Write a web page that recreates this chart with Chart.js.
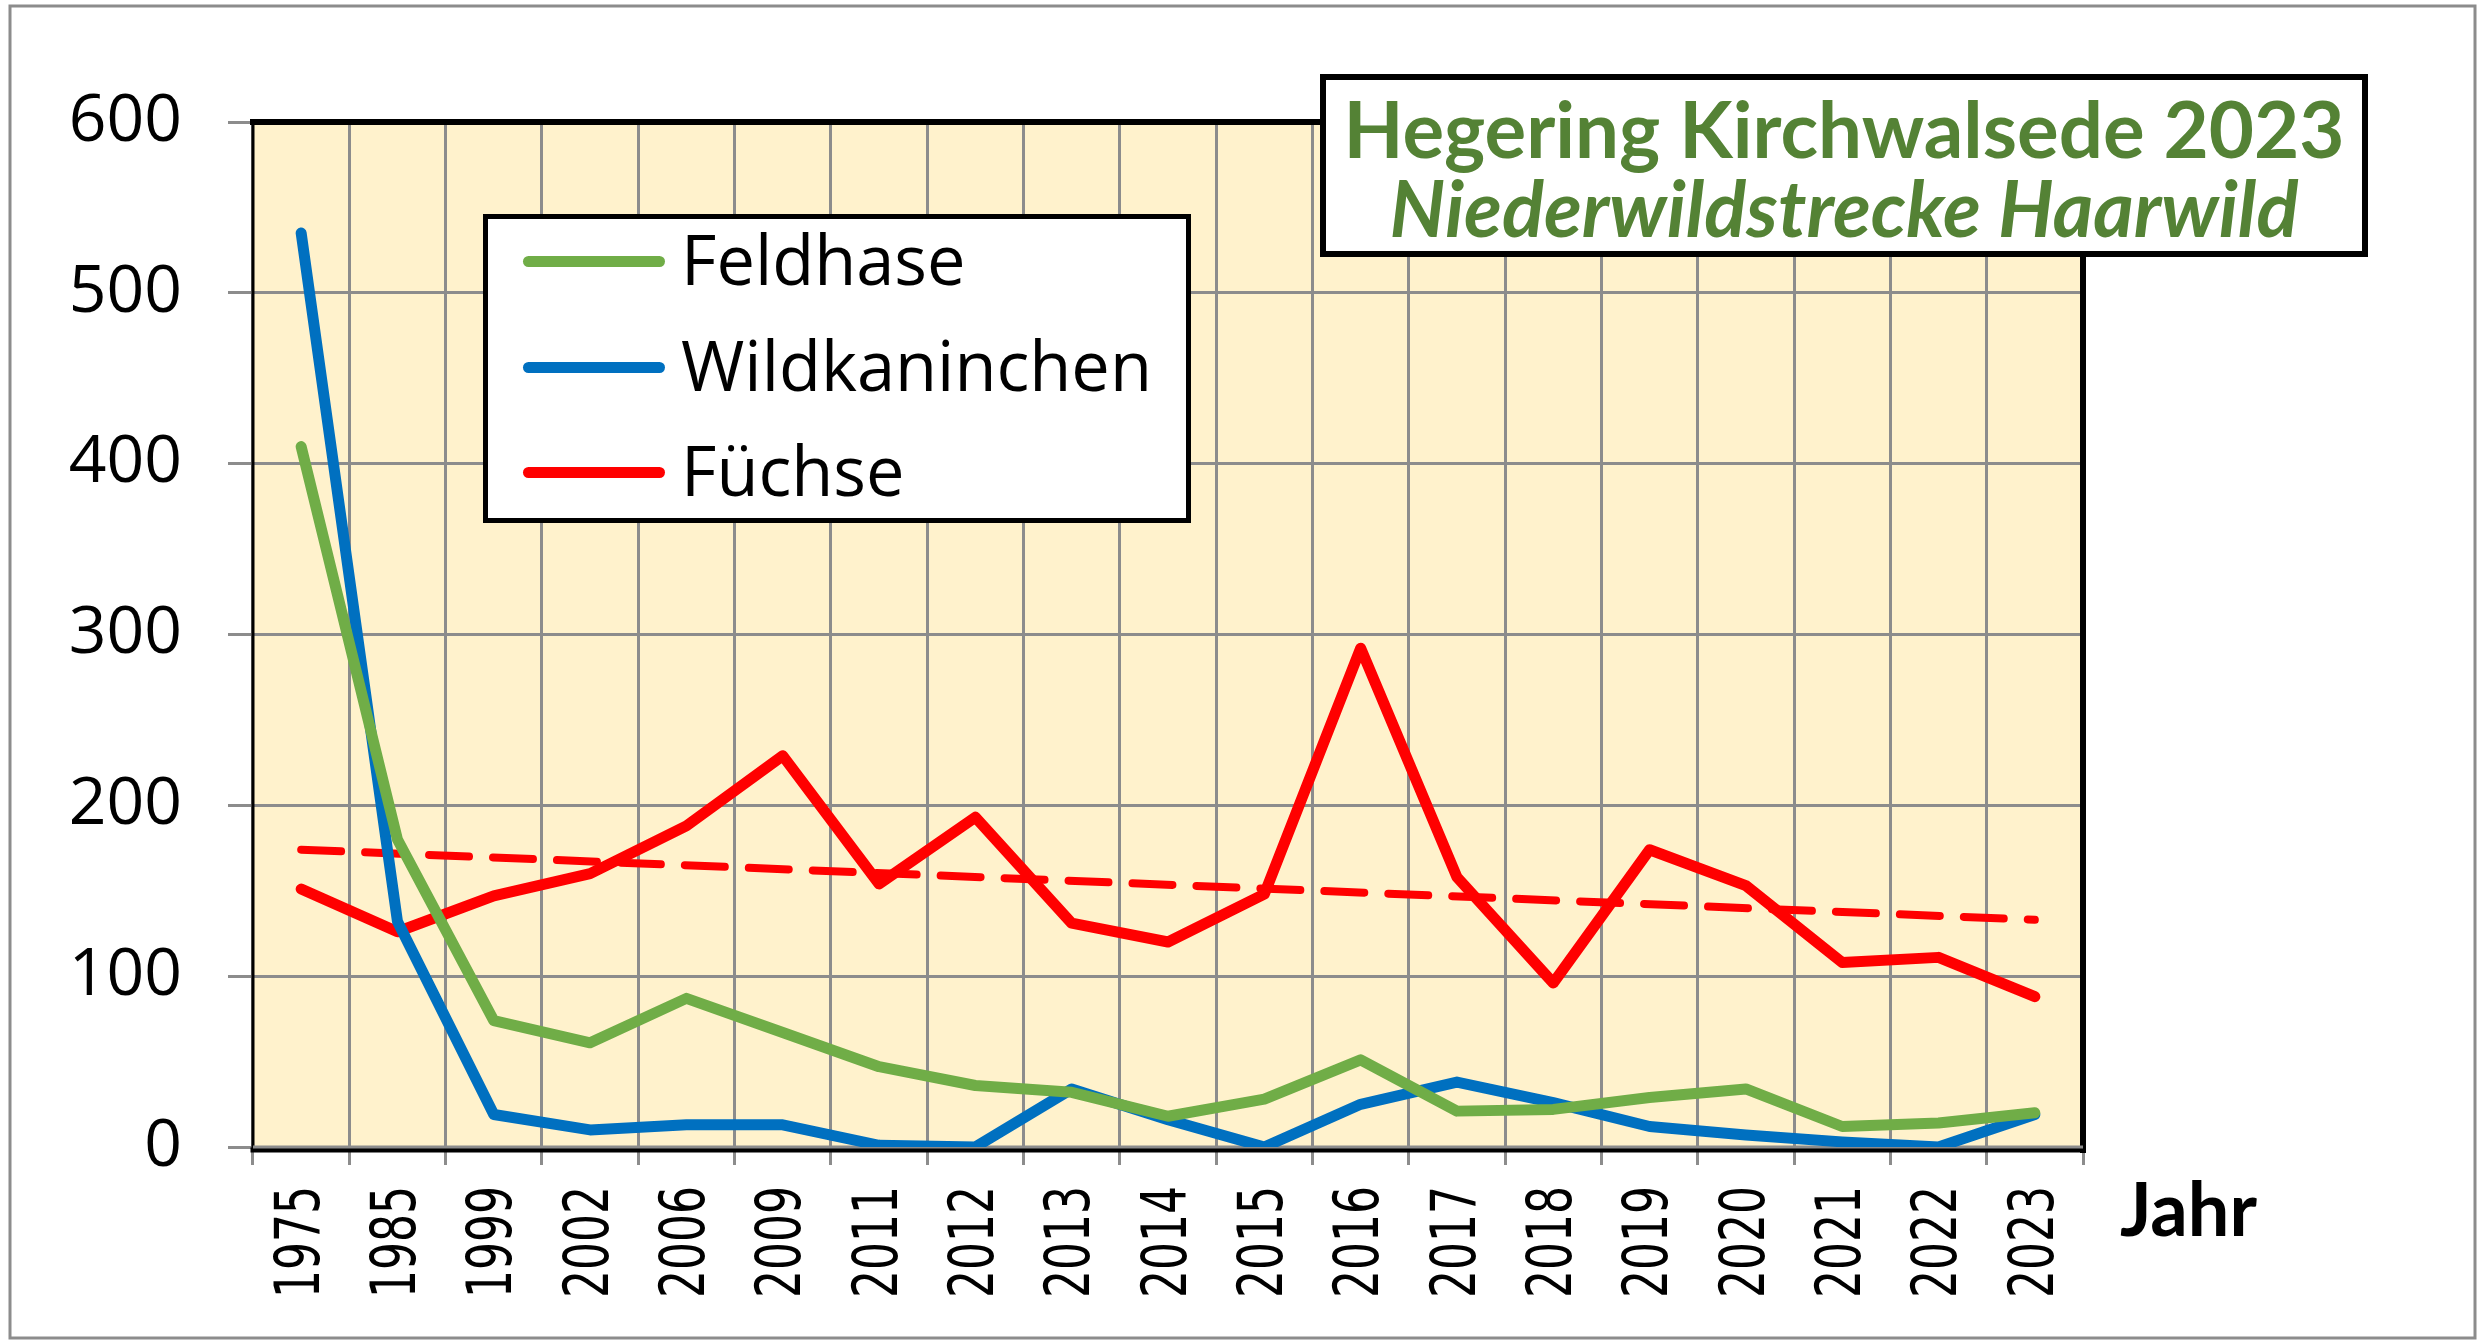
<!DOCTYPE html>
<html>
<head>
<meta charset="utf-8">
<script src="https://cdn.jsdelivr.net/npm/chart.js@4.4.1/dist/chart.umd.min.js"></script>
<style>
  html, body { margin: 0; padding: 0; background: #fff; }
  #wrap { position: relative; width: 2484px; height: 1341px; overflow: hidden; }
  #c { position: absolute; left: 0; top: 0; }
  #titlebox { position: absolute; left: 1320px; top: 74px; width: 1048px; height: 183px;
    box-sizing: border-box; border: 6px solid #000; background: #fff; }
  .tline { position: absolute; left: 0; width: 100%; text-align: center; color: #548235;
    white-space: nowrap; line-height: 1; font-family: Lato, "Open Sans", sans-serif; font-weight: bold; }
  #legendbox { position: absolute; left: 483px; top: 214px; width: 708px; height: 309px;
    box-sizing: border-box; border: 5px solid #000; background: #fff; }
  .lline { position: absolute; height: 11px; border-radius: 6px; }
  .ltext { position: absolute; white-space: nowrap; line-height: 1; color: #000;
    font-family: "Open Sans", sans-serif; }
  #jahr { position: absolute; white-space: nowrap; line-height: 1; color: #000;
    font-family: Lato, "Open Sans", sans-serif; font-weight: bold; }
</style>
</head>
<body>
<div id="wrap">
  <canvas id="c" width="2484" height="1341"></canvas>
  <div id="titlebox"></div>
  <div id="legendbox"></div>
  <div id="jahr"></div>
</div>
<script>
// ---- data ----
const categories = ['1975','1985','1999','2002','2006','2009','2011','2012','2013','2014','2015','2016','2017','2018','2019','2020','2021','2022','2023'];
const feldhase      = [410, 180, 74, 61, 87, 67, 47, 36, 32, 18, 28, 51, 21, 22, 29, 34, 12, 14, 20];
const wildkaninchen = [535, 132, 19, 10, 13, 13, 1, 0, 34, 16, 0, 25, 38, 26, 12, 7, 3, 0, 19];
const fuechse       = [151, 126, 147, 160, 188, 229, 154, 193, 131, 120, 148, 292, 158, 96, 174, 153, 108, 111, 88];
const fuechseTrend  = [174, null, null, null, null, null, null, null, null, null, null, null, null, null, null, null, null, null, 133];
const seriesNames   = ['Feldhase', 'Wildkaninchen', 'Füchse'];
const yMin = 0, yMax = 600, yStep = 100;
const titleLines = ['Hegering Kirchwalsede 2023', 'Niederwildstrecke Haarwild'];
const axisTitleX = 'Jahr';

const colors = ['#70AD47', '#0070C0', '#FF0000'];
const gridColor = '#8C8C8C';

// plot area geometry
const AREA = { left: 253, top: 122, right: 2083, bottom: 1147 };
const W = 2484, H = 1341;

const framePlugin = {
  id: 'frame',
  beforeDraw(chart) {
    const ctx = chart.ctx, a = chart.chartArea;
    ctx.save();
    ctx.fillStyle = '#fff';
    ctx.fillRect(0, 0, W, H);
    ctx.strokeStyle = '#8C8C8C';
    ctx.lineWidth = 3;
    ctx.strokeRect(10, 6, 2465, 1332);
    ctx.fillStyle = '#FFF2CC';
    ctx.fillRect(a.left, a.top, a.right - a.left, a.bottom - a.top);
    ctx.restore();
  },
  beforeDatasetsDraw(chart) {
    const ctx = chart.ctx, a = chart.chartArea;
    ctx.save();
    ctx.strokeStyle = '#000';
    ctx.lineCap = 'square';
    ctx.lineWidth = 5;
    ctx.beginPath(); ctx.moveTo(a.left, a.bottom + 3); ctx.lineTo(a.right, a.bottom + 3); ctx.stroke();
    ctx.lineWidth = 3;
    ctx.beginPath(); ctx.moveTo(a.left, a.top); ctx.lineTo(a.left, a.bottom); ctx.stroke();
    ctx.lineWidth = 6;
    ctx.beginPath(); ctx.moveTo(a.left, a.top); ctx.lineTo(a.right, a.top); ctx.stroke();
    ctx.beginPath(); ctx.moveTo(a.right, a.top); ctx.lineTo(a.right, a.bottom + 3); ctx.stroke();
    ctx.strokeStyle = gridColor;
    ctx.lineWidth = 3;
    ctx.lineCap = 'butt';
    ctx.beginPath(); ctx.moveTo(a.left, a.bottom); ctx.lineTo(a.right, a.bottom); ctx.stroke();
    ctx.restore();
  },
  // category labels of the x scale, drawn at the scale's own tick positions,
  // rotated and widened across the reading direction like the original
  afterDraw(chart) {
    const ctx = chart.ctx, xs = chart.scales.x;
    ctx.save();
    ctx.fillStyle = '#000';
    ctx.font = '44px "DejaVu Sans"';
    ctx.textAlign = 'right';
    ctx.textBaseline = 'middle';
    xs.ticks.forEach((t, i) => {
      const x = xs.getPixelForTick(i);
      ctx.save();
      ctx.translate(x, chart.chartArea.bottom + 39);
      ctx.rotate(-Math.PI / 2);
      ctx.scale(1, 1.42);
      ctx.fillText(xs.getLabelForValue(t.value), 0, 1);
      ctx.restore();
    });
    ctx.restore();
  }
};

const chart = new Chart(document.getElementById('c'), {
  type: 'line',
  data: {
    labels: categories,
    datasets: [
      { label: seriesNames[0], data: feldhase, borderColor: colors[0], backgroundColor: colors[0], borderWidth: 11 },
      { label: seriesNames[1], data: wildkaninchen, borderColor: colors[1], backgroundColor: colors[1], borderWidth: 11 },
      { label: seriesNames[2], data: fuechse, borderColor: colors[2], backgroundColor: colors[2], borderWidth: 11 },
      { label: 'Trend', data: fuechseTrend, borderColor: colors[2], borderWidth: 8, borderDash: [40, 24], spanGaps: true, isTrend: true }
    ]
  },
  options: {
    responsive: false,
    animation: false,
    devicePixelRatio: 1,
    layout: { padding: { left: 0, top: AREA.top, right: W - AREA.right, bottom: 0 } },
    elements: { point: { radius: 0, hoverRadius: 0 }, line: { tension: 0, borderJoinStyle: 'round', borderCapStyle: 'round' } },
    plugins: { legend: { display: false }, tooltip: { enabled: false }, title: { display: false } },
    scales: {
      x: {
        type: 'category',
        offset: true,
        grid: { offset: true, color: gridColor, lineWidth: 3, tickLength: 18, drawOnChartArea: true },
        border: { display: false },
        ticks: { display: false, autoSkip: false },
        afterFit(scale) { scale.height = H - AREA.bottom; }
      },
      y: {
        min: yMin, max: yMax,
        grid: { color: gridColor, lineWidth: 3, tickLength: 25 },
        border: { display: false },
        ticks: { stepSize: yStep, padding: 46, color: '#000',
                 font: { family: 'Open Sans', size: 66 } },
        afterFit(scale) { scale.width = AREA.left; }
      }
    }
  },
  plugins: [framePlugin]
});

// ---- text overlays (real DOM text) ----
const mctx = document.createElement('canvas').getContext('2d');
function fit(text, font, target) {
  mctx.font = font.replace('{s}', '100px');
  return 100 * target / mctx.measureText(text).width;
}

// title box
const tb = document.getElementById('titlebox');
const t1 = document.createElement('div'); t1.className = 'tline'; t1.textContent = titleLines[0];
const s1 = fit(titleLines[0], 'bold {s} Lato', 1001);
t1.style.fontSize = s1 + 'px'; t1.style.top = (130 - 74 - 6 - 0.527 * s1) + 'px';
const t2 = document.createElement('div'); t2.className = 'tline'; t2.textContent = titleLines[1];
t2.style.fontStyle = 'italic';
const s2 = fit(titleLines[1], 'italic bold {s} Lato', 909);
t2.style.fontSize = s2 + 'px'; t2.style.top = (210 - 74 - 6 - 0.527 * s2) + 'px';
tb.appendChild(t1); tb.appendChild(t2);

// legend
const lb = document.getElementById('legendbox');
const legendSize = fit(seriesNames[1], '{s} "Open Sans"', 471);
const rowY = [261, 367, 472];
chart.data.datasets.filter(d => !d.isTrend).forEach((d, i) => {
  const cy = rowY[i] - 214 - 5;
  const ln = document.createElement('div'); ln.className = 'lline';
  ln.style.left = (523 - 483 - 5) + 'px'; ln.style.width = '142px';
  ln.style.top = (cy - 5.5) + 'px'; ln.style.background = d.borderColor;
  const tx = document.createElement('div'); tx.className = 'ltext'; tx.textContent = d.label;
  tx.style.fontSize = legendSize + 'px';
  tx.style.left = (681 - 483 - 5) + 'px';
  tx.style.top = (cy - 0.531 * legendSize) + 'px';
  lb.appendChild(ln); lb.appendChild(tx);
});

// axis title "Jahr"
const jh = document.getElementById('jahr');
jh.textContent = axisTitleX;
const sj = fit(axisTitleX, 'bold {s} Lato', 137);
jh.style.fontSize = sj + 'px';
jh.style.left = '2120px';
jh.style.top = (1210 - 0.527 * sj) + 'px';
</script>
</body>
</html>
